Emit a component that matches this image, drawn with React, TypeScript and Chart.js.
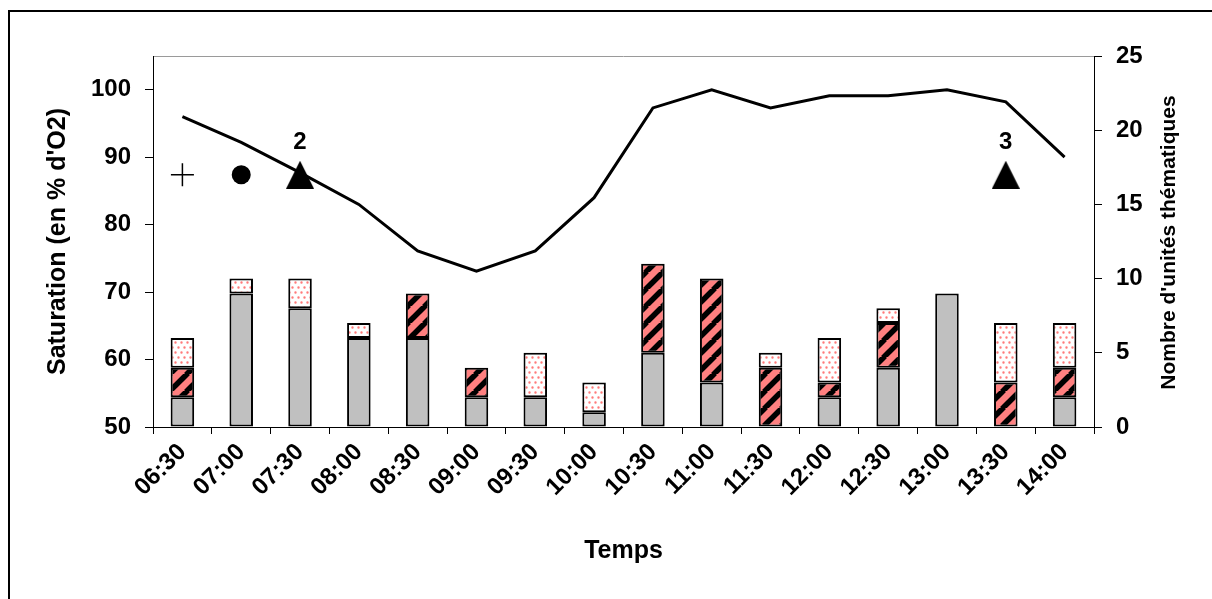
import React, { useEffect, useRef } from "react";
import { Chart, registerables } from "chart.js";

Chart.register(...registerables);

const categories = [
  "06:30", "07:00", "07:30", "08:00", "08:30", "09:00", "09:30", "10:00",
  "10:30", "11:00", "11:30", "12:00", "12:30", "13:00", "13:30", "14:00",
];

// Saturation (% O2), left axis
const saturation = [96, 92.2, 87.7, 83, 76.1, 73.1, 76.1, 84, 97.3, 100, 97.3, 99.1, 99.1, 100, 98.2, 90];

// Number of thematic units (right axis), stacked
const grayUnits = [2, 9, 8, 6, 6, 2, 2, 1, 5, 3, 0, 2, 4, 9, 0, 2];
const hatchedUnits = [2, 0, 0, 0, 3, 2, 0, 0, 6, 7, 4, 1, 3, 0, 3, 2];
const dottedUnits = [2, 1, 2, 1, 0, 0, 3, 2, 0, 0, 1, 3, 1, 0, 4, 3];

// Event markers (left axis value)
const plusMarker = [87.4, null, null, null, null, null, null, null, null, null, null, null, null, null, null, null];
const circleMarker = [null, 87.4, null, null, null, null, null, null, null, null, null, null, null, null, null, null];
const triangleMarker = [null, null, 87.4, null, null, null, null, null, null, null, null, null, null, null, 87.4, null];
const triangleLabels = [null, null, "2", null, null, null, null, null, null, null, null, null, null, null, "3", null];

const leftTicks = [50, 60, 70, 80, 90, 100];
const rightTicks = [0, 5, 10, 15, 20, 25];

const FONT = "Arial, 'Liberation Sans', sans-serif";

function nz(arr: number[]) {
  return arr.map((v) => (v === 0 ? null : v));
}

function makeHatch(): CanvasPattern | string {
  const s = 17;
  const c = document.createElement("canvas");
  c.width = s;
  c.height = s;
  const ctx = c.getContext("2d");
  if (!ctx) return "#FF8080";
  ctx.fillStyle = "#FF8080";
  ctx.fillRect(0, 0, s, s);
  ctx.strokeStyle = "#000";
  ctx.lineWidth = 5.5;
  for (const x0 of [-s, 0, s]) {
    ctx.beginPath();
    ctx.moveTo(x0 - 1, s + 1);
    ctx.lineTo(x0 + s + 1, -1);
    ctx.stroke();
  }
  return ctx.createPattern(c, "repeat") || "#FF8080";
}

function makeDots(): CanvasPattern | string {
  const c = document.createElement("canvas");
  c.width = 6;
  c.height = 10;
  const ctx = c.getContext("2d");
  if (!ctx) return "#fff";
  ctx.fillStyle = "#fff";
  ctx.fillRect(0, 0, 6, 10);
  ctx.fillStyle = "#FF7A7A";
  ctx.beginPath();
  ctx.arc(1.5, 2.5, 1.2, 0, Math.PI * 2);
  ctx.arc(4.5, 7.5, 1.2, 0, Math.PI * 2);
  ctx.fill();
  return ctx.createPattern(c, "repeat") || "#fff";
}

function makeTriangle(): HTMLCanvasElement {
  const c = document.createElement("canvas");
  c.width = 28;
  c.height = 28;
  const ctx = c.getContext("2d");
  if (ctx) {
    ctx.fillStyle = "#000";
    ctx.beginPath();
    ctx.moveTo(14, 0);
    ctx.lineTo(28, 28);
    ctx.lineTo(0, 28);
    ctx.closePath();
    ctx.fill();
  }
  return c;
}

const decorPlugin = {
  id: "decor",
  beforeDraw(chart: any) {
    const { ctx, chartArea } = chart;
    ctx.save();
    ctx.fillStyle = "#fff";
    ctx.fillRect(0, 0, chart.width, chart.height);
    // outer frame
    ctx.fillStyle = "#000";
    ctx.fillRect(8, 10, chart.width - 8, 2);
    ctx.fillRect(8, 10, 2, chart.height - 10);
    // plot area top border
    ctx.strokeStyle = "#9a9a9a";
    ctx.lineWidth = 1;
    ctx.beginPath();
    ctx.moveTo(chartArea.left, chartArea.top + 0.5);
    ctx.lineTo(chartArea.right, chartArea.top + 0.5);
    ctx.stroke();
    ctx.restore();
  },
  afterDraw(chart: any) {
    const { ctx, chartArea } = chart;
    ctx.save();
    // right axis title, reading bottom-to-top
    ctx.fillStyle = "#000";
    ctx.font = `bold 21px ${FONT}`;
    ctx.textAlign = "center";
    ctx.textBaseline = "middle";
    ctx.translate(chartArea.right + 75, (chartArea.top + chartArea.bottom) / 2 + 1);
    ctx.rotate(-Math.PI / 2);
    ctx.fillText("Nombre d'unités thématiques", 0, 0);
    ctx.restore();

    // marker labels
    chart.data.datasets.forEach((ds: any, i: number) => {
      if (!ds.markerLabels) return;
      const meta = chart.getDatasetMeta(i);
      meta.data.forEach((pt: any, j: number) => {
        const lbl = ds.markerLabels[j];
        if (!lbl || pt.skip) return;
        ctx.save();
        ctx.fillStyle = "#000";
        ctx.font = `bold 24px ${FONT}`;
        ctx.textAlign = "center";
        ctx.textBaseline = "middle";
        ctx.fillText(lbl, pt.x, pt.y - 32);
        ctx.restore();
      });
    });
  },
};

export default function App() {
  const ref = useRef<HTMLCanvasElement | null>(null);

  useEffect(() => {
    if (!ref.current) return;
    const hatch = makeHatch();
    const dots = makeDots();
    const tri = makeTriangle();

    const barCommon = {
      type: "bar" as const,
      yAxisID: "y1",
      borderColor: "#000",
      borderWidth: 2,
      borderSkipped: false,
      barPercentage: 0.4,
      categoryPercentage: 1,
      stack: "units",
      order: 2,
    };

    const chart = new Chart(ref.current, {
      type: "bar",
      data: {
        labels: categories,
        datasets: [
          { ...barCommon, label: "gris", data: nz(grayUnits), backgroundColor: "#C0C0C0" },
          { ...barCommon, label: "hachuré", data: nz(hatchedUnits), backgroundColor: hatch as any },
          { ...barCommon, label: "pointillé", data: nz(dottedUnits), backgroundColor: dots as any },
          {
            type: "line",
            label: "Saturation",
            yAxisID: "y",
            data: saturation,
            borderColor: "#000",
            borderWidth: 3,
            pointRadius: 0,
            tension: 0,
            fill: false,
            order: 0,
          } as any,
          {
            type: "line",
            label: "plus",
            yAxisID: "y",
            data: plusMarker,
            showLine: false,
            pointStyle: "cross",
            pointRadius: 11.5,
            pointBorderWidth: 1.5,
            pointBorderColor: "#000",
            order: 0,
          } as any,
          {
            type: "line",
            label: "cercle",
            yAxisID: "y",
            data: circleMarker,
            showLine: false,
            pointStyle: "circle",
            pointRadius: 9.5,
            pointBorderWidth: 0,
            pointBackgroundColor: "#000",
            pointBorderColor: "#000",
            order: 0,
          } as any,
          {
            type: "line",
            label: "triangle",
            yAxisID: "y",
            data: triangleMarker,
            markerLabels: triangleLabels,
            showLine: false,
            pointStyle: tri,
            pointRadius: 14,
            order: 0,
          } as any,
        ],
      },
      options: {
        animation: false,
        responsive: false,
        maintainAspectRatio: false,
        layout: { padding: { top: 56, left: 0, right: 0, bottom: 0 } },
        plugins: {
          legend: { display: false },
          tooltip: { enabled: false },
        },
        scales: {
          x: {
            type: "category",
            stacked: true,
            offset: true,
            grid: {
              offset: true,
              drawOnChartArea: false,
              drawTicks: true,
              tickLength: 7,
              color: "#000",
            },
            border: { color: "#000", width: 1 },
            ticks: {
              autoSkip: false,
              maxRotation: 45,
              minRotation: 45,
              padding: 4,
              color: "#000",
              font: { family: FONT, size: 24, weight: "bold" },
            },
            title: {
              display: true,
              text: "Temps",
              color: "#000",
              font: { family: FONT, size: 25, weight: "bold" },
              padding: { top: 0, bottom: 33 },
            },
            afterFit: (s: any) => {
              s.height = 172;
            },
          },
          y: {
            type: "linear",
            position: "left",
            min: 50,
            max: 105,
            afterBuildTicks: (s: any) => {
              s.ticks = leftTicks.map((v) => ({ value: v }));
            },
            grid: { drawOnChartArea: false, tickLength: 8, color: "#000" },
            border: { color: "#000", width: 1 },
            ticks: {
              padding: 14,
              color: "#000",
              font: { family: FONT, size: 24, weight: "bold" },
            },
            title: {
              display: true,
              text: "Saturation (en % d'O2)",
              color: "#000",
              font: { family: FONT, size: 25, weight: "bold" },
              padding: { top: 43, bottom: 0 },
            },
            afterFit: (s: any) => {
              s.width = 153;
            },
          },
          y1: {
            type: "linear",
            position: "right",
            stacked: true,
            min: 0,
            max: 25,
            afterBuildTicks: (s: any) => {
              s.ticks = rightTicks.map((v) => ({ value: v }));
            },
            grid: { drawOnChartArea: false, tickLength: 8, color: "#000" },
            border: { color: "#000", width: 1 },
            ticks: {
              padding: 14,
              color: "#000",
              font: { family: FONT, size: 24, weight: "bold" },
            },
            afterFit: (s: any) => {
              s.width = 118;
            },
          },
        },
      } as any,
      plugins: [decorPlugin],
    });

    return () => chart.destroy();
  }, []);

  return (
    <div style={{ position: "fixed", left: 0, top: 0, width: 1212, height: 599 }}>
      <canvas ref={ref} width={1212} height={599} style={{ display: "block", width: 1212, height: 599 }} />
    </div>
  );
}
